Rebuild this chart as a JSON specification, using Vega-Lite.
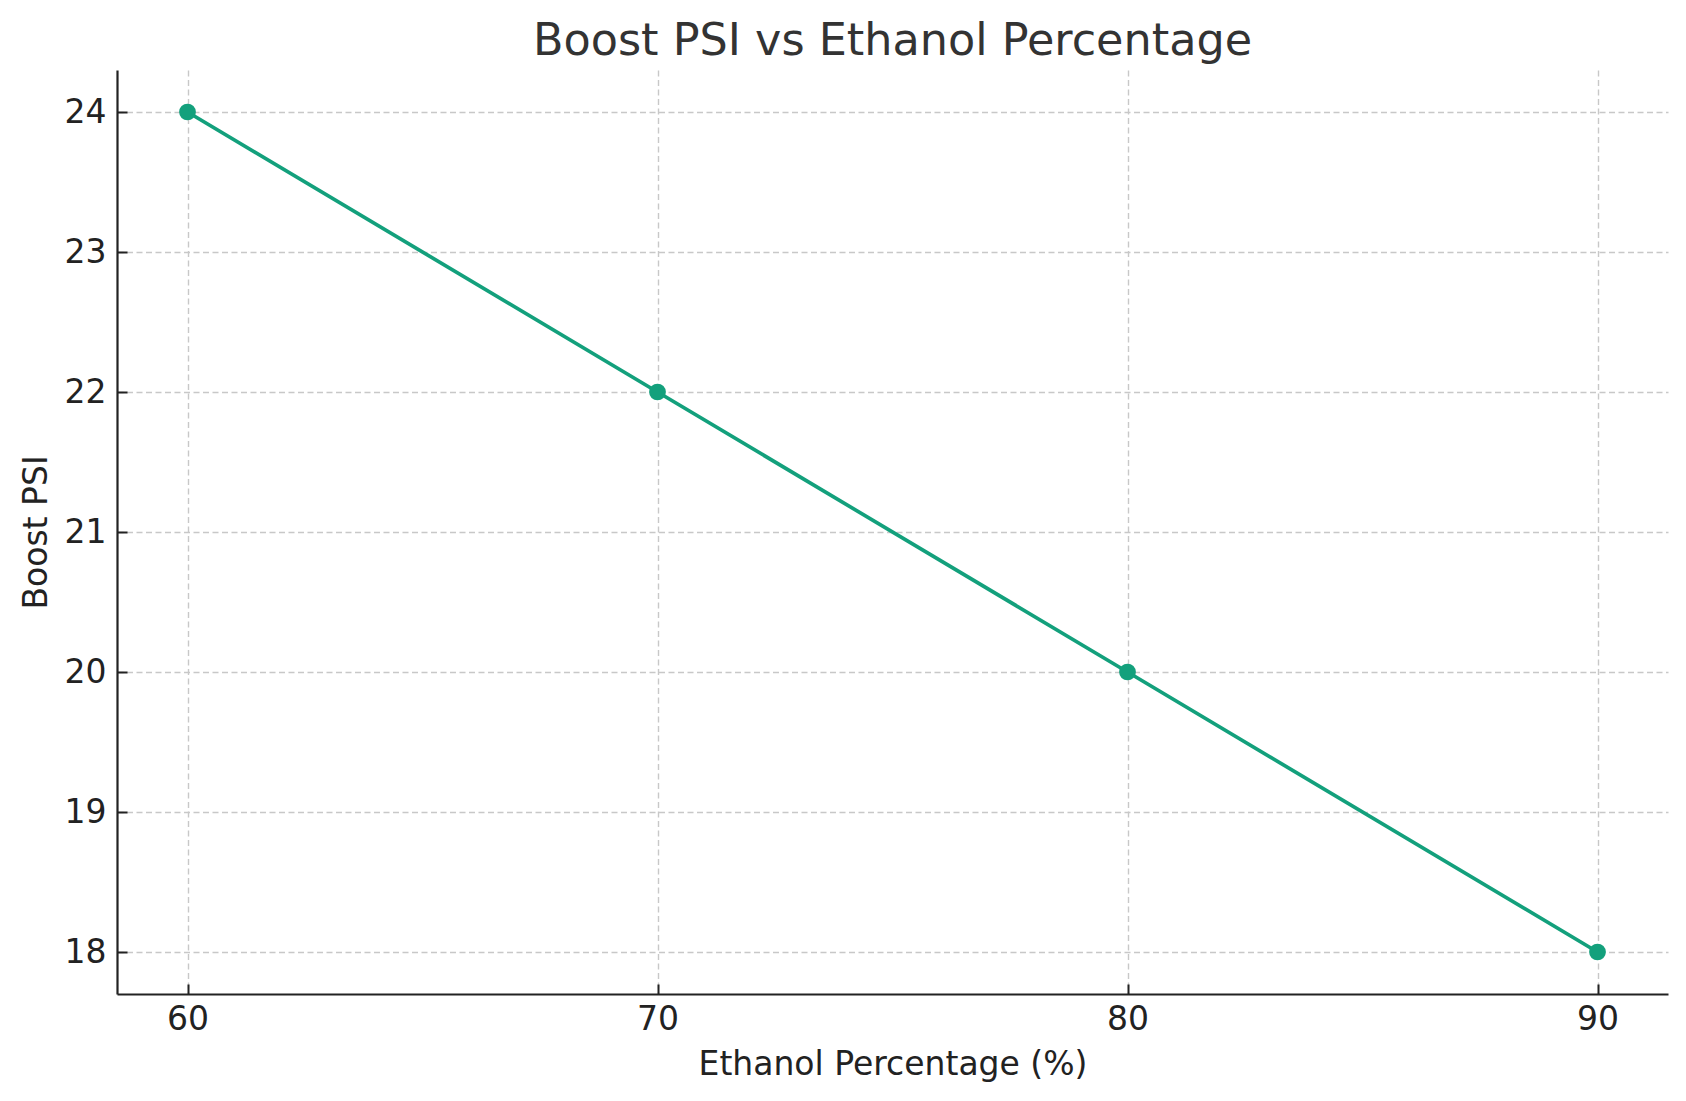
{
  "$schema": "https://vega.github.io/schema/vega-lite/v6.json",
  "width": 1551,
  "height": 924,
  "autosize": {"type": "none"},
  "padding": {"left": 117, "top": 70, "right": 18, "bottom": 107},
  "background": "white",
  "config": {
    "font": "DejaVu Sans",
    "view": {"stroke": null},
    "axis": {
      "domainColor": "#222222",
      "domainWidth": 2.2,
      "tickColor": "#222222",
      "tickWidth": 2,
      "tickSize": -10,
      "labelFont": "DejaVu Sans",
      "labelFontSize": 33,
      "labelColor": "#222222",
      "titleFont": "DejaVu Sans",
      "titleFontSize": 33,
      "titleFontWeight": "normal",
      "titleColor": "#222222",
      "grid": true,
      "gridColor": "#c8c8c8",
      "gridWidth": 1.4,
      "gridDash": [6, 3.5]
    }
  },
  "title": {
    "text": "Boost PSI vs Ethanol Percentage",
    "font": "DejaVu Sans",
    "fontSize": 44.5,
    "fontWeight": "normal",
    "color": "#333333",
    "anchor": "middle",
    "baseline": "alphabetic",
    "offset": 16,
    "dy": 45
  },
  "data": {
    "values": [
      {"ethanol": 60, "boost": 24},
      {"ethanol": 70, "boost": 22},
      {"ethanol": 80, "boost": 20},
      {"ethanol": 90, "boost": 18}
    ]
  },
  "mark": {
    "type": "line",
    "color": "#13a07c",
    "strokeWidth": 3.7,
    "point": {"filled": true, "size": 280, "color": "#13a07c", "opacity": 1}
  },
  "encoding": {
    "x": {
      "field": "ethanol",
      "type": "quantitative",
      "title": "Ethanol Percentage (%)",
      "scale": {"domain": [58.5, 91.5], "nice": false, "zero": false},
      "axis": {"values": [60, 70, 80, 90], "labelPadding": 19, "titlePadding": 12}
    },
    "y": {
      "field": "boost",
      "type": "quantitative",
      "title": "Boost PSI",
      "scale": {"domain": [17.7, 24.3], "nice": false, "zero": false},
      "axis": {"values": [18, 19, 20, 21, 22, 23, 24], "labelPadding": 21, "titlePadding": 11}
    }
  }
}
